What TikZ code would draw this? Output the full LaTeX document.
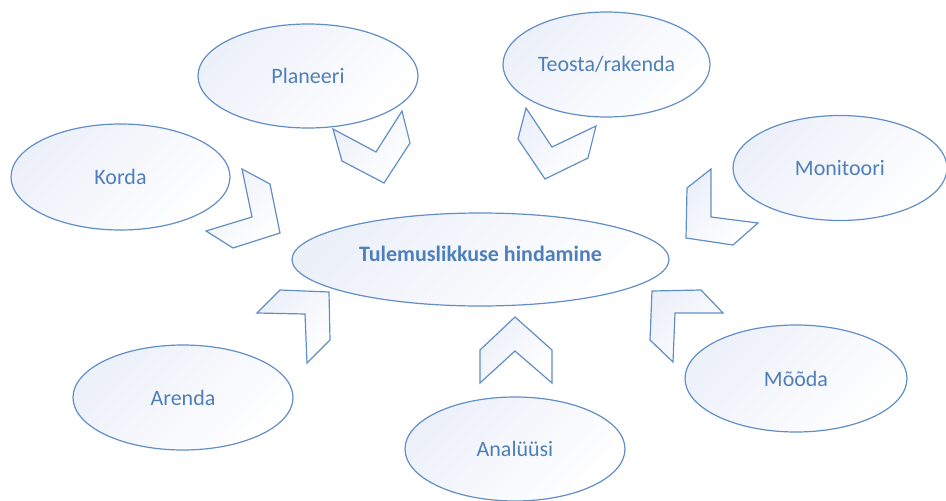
\documentclass[tikz,border=0pt]{standalone}
\usepackage{fontspec}
\setmainfont{Carlito}
\usetikzlibrary{shapes.geometric}
\definecolor{edgeblue}{RGB}{98,142,198}
\definecolor{textblue}{RGB}{79,127,186}
\definecolor{paleblue}{RGB}{236,240,249}
\tikzset{
  bubble/.style={ellipse, draw=edgeblue, line width=1.2pt, inner sep=0pt,
    top color=paleblue, bottom color=white, shading angle=45,
    text=textblue, font=\fontsize{22}{26}\selectfont},
  chevron/.style={draw=edgeblue, line width=1.2pt, line join=miter,
    top color=paleblue, bottom color=white, shading angle=45}
}
\begin{document}
\begin{tikzpicture}[x=1pt,y=-1pt]
\useasboundingbox (0,0) rectangle (946,501);

% central goal
\node[bubble, minimum width=377pt, minimum height=93pt] (goal) at (480.5,259.5) {};
\node[text=textblue, font=\fontsize{22}{26}\selectfont\bfseries] (goaltext) at (480.5,254) {Tulemuslikkuse hindamine};

% surrounding steps
\node[bubble, minimum width=220pt, minimum height=104pt] (plan) at (308,76) {Planeeri};
\node[bubble, minimum width=207pt, minimum height=105pt] (teo) at (606.5,64.5) {Teosta/rakenda};
\node[bubble, minimum width=214pt, minimum height=105pt] (mon) at (840,168) {Monitoori};
\node[bubble, minimum width=219pt, minimum height=106pt] (korda) at (120.5,177) {Korda};
\node[bubble, minimum width=220pt, minimum height=105pt] (arenda) at (183,397.5) {Arenda};
\node[bubble, minimum width=220pt, minimum height=104pt] (anal) at (515,449) {Analüüsi};
\node[bubble, minimum width=222pt, minimum height=107pt] (mooda) at (796,378.5) {Mõõda};

% chevrons pointing towards the centre
\draw[chevron] (333,129) -- (376,152) -- (402,111) -- (410,143) -- (384,183) -- (342,161) -- cycle;
\draw[chevron] (526,108) -- (552,147) -- (596,126) -- (588,158) -- (545,179) -- (518,139) -- cycle;
\draw[chevron] (711,169) -- (711,217) -- (758,223) -- (733,245) -- (686,238) -- (687,188) -- cycle;
\draw[chevron] (242,169) -- (270,184) -- (280,233) -- (233,248) -- (206,231) -- (252,217) -- cycle;
\draw[chevron] (280,290) -- (329,292) -- (330,340) -- (307,363) -- (305,314) -- (257,313) -- cycle;
\draw[chevron] (515,317) -- (552,350) -- (552,383) -- (515,351) -- (480,383) -- (480,350) -- cycle;
\draw[chevron] (652,291) -- (701,290) -- (723,313) -- (675,313) -- (673,362) -- (650,340) -- cycle;
\end{tikzpicture}
\end{document}
